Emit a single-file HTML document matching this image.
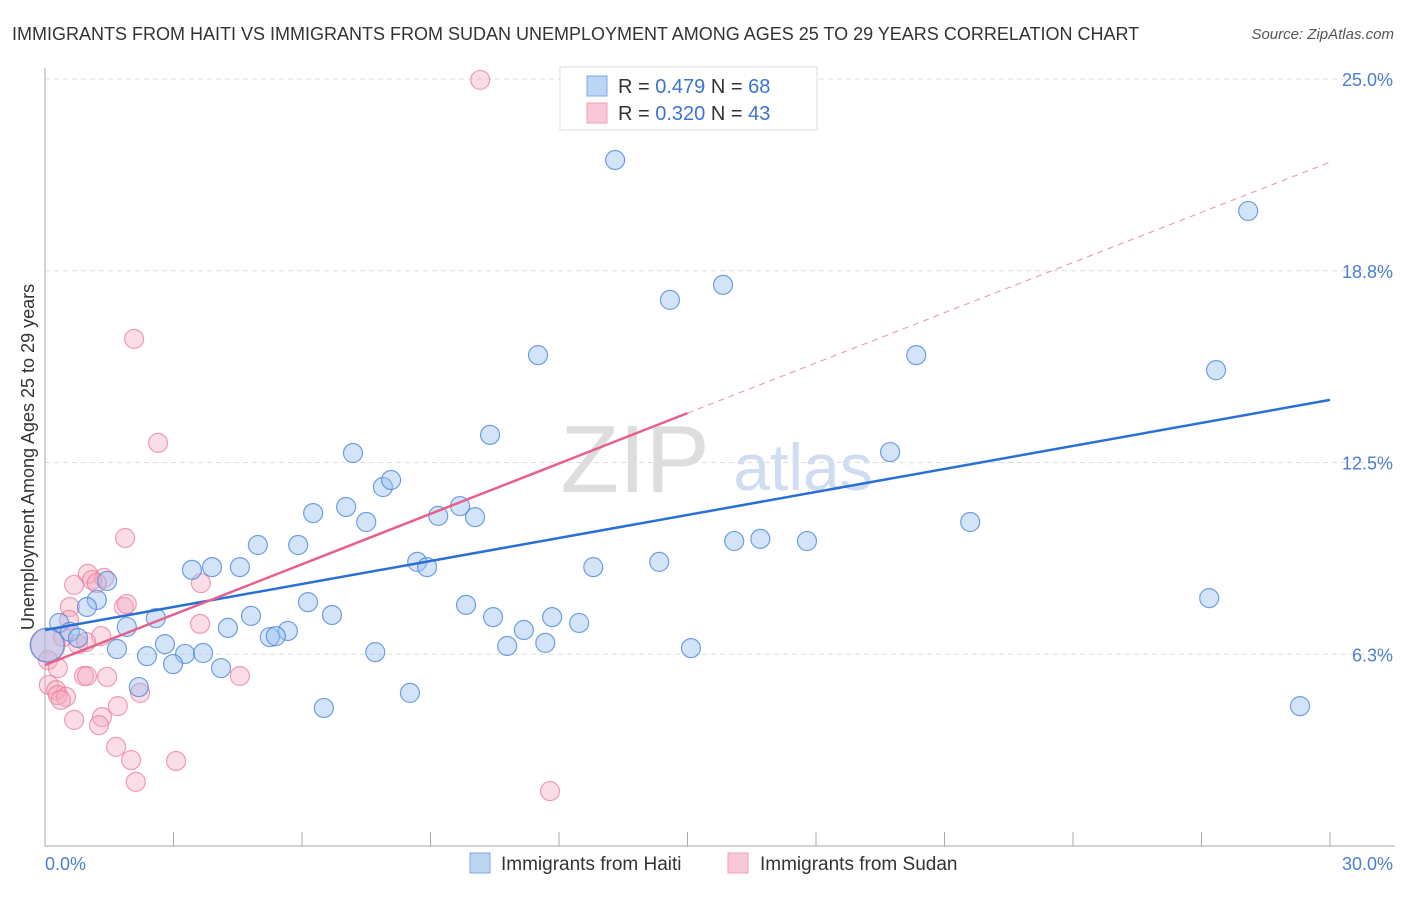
<!DOCTYPE html>
<html><head><meta charset="utf-8">
<style>
body{margin:0;background:#fff;font-family:"Liberation Sans",sans-serif;}
svg text{font-family:"Liberation Sans",sans-serif;}
</style></head>
<body>
<svg id="chart" width="1406" height="892" xmlns="http://www.w3.org/2000/svg">
<text x="12" y="40" font-size="18" fill="#333">IMMIGRANTS FROM HAITI VS IMMIGRANTS FROM SUDAN UNEMPLOYMENT AMONG AGES 25 TO 29 YEARS CORRELATION CHART</text>
<text x="1394" y="39" font-size="15" fill="#555" font-style="italic" text-anchor="end">Source: ZipAtlas.com</text>
<g>
<text x="635" y="492" font-size="96" fill="#ddd" font-family="Liberation Serif" text-anchor="middle">ZIP</text>
<text x="803" y="490" font-size="66" fill="#cfdcf2" text-anchor="middle">atlas</text>
</g>
<g id="grid"></g>
<g id="axes"></g>
<g id="marks"></g>
<text transform="translate(34,457) rotate(-90)" font-size="18" fill="#333" text-anchor="middle">Unemployment Among Ages 25 to 29 years</text>
<g>
<rect x="560" y="67" width="257" height="63" fill="#fff" stroke="#ddd"/>
<rect x="587" y="76" width="20" height="20" fill="#bcd5f5" stroke="#7fa8e0"/>
<rect x="587" y="103" width="20" height="20" fill="#f9c8d6" stroke="#f0a0bb"/>
<text x="618" y="93" font-size="20" fill="#333">R = <tspan fill="#3b74d0">0.479</tspan>   N = <tspan fill="#3b74d0">68</tspan></text>
<text x="618" y="120" font-size="20" fill="#333">R = <tspan fill="#3b74d0">0.320</tspan>   N = <tspan fill="#3b74d0">43</tspan></text>
</g>
<g>
<rect x="470" y="853" width="20" height="20" fill="#bcd5f5" stroke="#7fa8e0"/>
<text x="501" y="870" font-size="19" fill="#333">Immigrants from Haiti</text>
<rect x="728" y="853" width="20" height="20" fill="#f9c8d6" stroke="#f0a0bb"/>
<text x="760" y="870" font-size="19" fill="#333">Immigrants from Sudan</text>
</g>
</svg>
<script>
const yTicks=[6.25,12.5,18.75,25];
const yTickLabels=["6.3%","12.5%","18.8%","25.0%"];
const xTicks=[0,3,6,9,12,15,18,21,24,27,30];
const xTickLabels=["0.0%","30.0%"];
const haitiX=[13.31,28.09,14.59,15.83,11.51,20.34,27.34,10.39,7.19,19.73,7.89,8.08,6.26,7.03,7.50,9.18,9.69,10.04,21.60,4.97,5.91,16.09,16.70,17.79,8.69,8.92,12.80,14.34,3.43,3.90,4.55,1.45,1.21,0.98,0.33,0.58,0.77,6.14,6.70,9.83,10.46,11.84,12.47,11.18,2.59,1.91,4.81,4.27,5.67,5.25,5.39,2.80,1.68,2.38,3.27,3.69,2.99,4.11,10.79,11.68,15.08,7.71,8.52,6.51,2.19,27.18,29.30,0.05];
const haitiY=[22.36,20.70,17.80,18.29,16.00,16.00,15.51,13.40,12.81,12.84,11.70,11.93,10.85,11.05,10.56,10.76,11.08,10.72,10.56,9.81,9.81,9.94,10.01,9.94,9.26,9.09,9.09,9.26,9.00,9.09,9.09,8.64,8.02,7.79,7.27,6.98,6.78,7.95,7.53,7.86,7.46,7.46,7.27,7.04,7.43,7.14,7.50,7.11,7.01,6.81,6.84,6.58,6.42,6.19,6.26,6.29,5.93,5.80,6.52,6.62,6.45,6.32,4.99,4.50,5.18,8.08,4.56,6.55];
const sudanX=[10.16,2.08,2.64,1.87,0.68,1.00,1.38,1.10,0.58,0.56,1.21,1.84,1.91,3.64,3.62,1.31,0.77,0.96,0.07,0.30,0.09,0.26,0.30,0.49,0.91,0.98,1.45,0.37,0.68,1.33,1.70,1.26,2.22,4.55,1.66,2.01,3.06,2.12,11.79,0.42,0.07];
const sudanY=[24.97,16.53,13.14,10.04,8.51,8.87,8.74,8.67,7.79,7.37,8.57,7.79,7.89,8.57,7.24,6.84,6.58,6.65,6.06,5.80,5.25,5.08,4.92,4.86,5.54,5.54,5.51,4.76,4.11,4.20,4.56,3.94,4.99,5.54,3.23,2.80,2.77,2.09,1.79,6.81,6.55];
const haitiTrend=[7.04,14.54];
const sudanTrend=[5.90,14.11,22.29];
const trendX=[0,30];
const sudanSolidEnd=15;

const NS="http://www.w3.org/2000/svg";
const X0=45,X1=1330,Y0=846,PXY=30.68;
const sx=v=>X0+(X1-X0)*v/30;
const sy=v=>Y0-v*PXY;
function mk(tag,attrs,parent){const e=document.createElementNS(NS,tag);for(const k in attrs)e.setAttribute(k,attrs[k]);parent.appendChild(e);return e;}
const grid=document.getElementById('grid'),axes=document.getElementById('axes'),marks=document.getElementById('marks');
yTicks.forEach((t,i)=>{
  const l=mk('line',{x1:X0,x2:1395,y1:sy(t),y2:sy(t),stroke:'#ddd','stroke-dasharray':'5,4'},grid);
  
  
  const tx=mk('text',{x:1393,y:sy(t)+7,'font-size':18,fill:'#4a7fd0','text-anchor':'end'},axes);
  tx.textContent=yTickLabels[i];
  
  
});
const ax=mk('line',{x1:X0,x2:X0,y1:68,y2:Y0,stroke:'#aaa'},axes);


const bx=mk('line',{x1:X0,x2:1395,y1:Y0,y2:Y0,stroke:'#aaa'},axes);


xTicks.forEach(t=>{
  const l=mk('line',{x1:sx(t),x2:sx(t),y1:Y0-14,y2:Y0,stroke:'#aaa'},axes);
  
  
});
const xl0=mk('text',{x:X0,y:870,'font-size':18,fill:'#4a7fd0'},axes);xl0.textContent=xTickLabels[0];


const xl1=mk('text',{x:1393,y:870,'font-size':18,fill:'#4a7fd0','text-anchor':'end'},axes);xl1.textContent=xTickLabels[1];



function dots(xs,ys,fill,stroke,name){
  xs.forEach((x,i)=>{
    const big=(i===xs.length-1);
    const c=mk('circle',{cx:sx(x),cy:sy(ys[i]),r:big?17:9.5,fill:fill,stroke:stroke,'stroke-width':1.2},marks);
    
    
  });
}
dots(sudanX,sudanY,'rgba(245,165,190,0.38)','rgba(235,120,155,0.7)','sudan-point');
dots(haitiX,haitiY,'rgba(150,190,240,0.42)','rgba(70,130,215,0.75)','haiti-point');

const bl=mk('line',{x1:sx(trendX[0]),y1:sy(haitiTrend[0]),x2:sx(trendX[1]),y2:sy(haitiTrend[1]),stroke:'#2a6fd6','stroke-width':2.5},marks);


const pl=mk('line',{x1:sx(trendX[0]),y1:sy(sudanTrend[0]),x2:sx(sudanSolidEnd),y2:sy(sudanTrend[1]),stroke:'#e8608a','stroke-width':2.5},marks);


const pd=mk('line',{x1:sx(sudanSolidEnd),y1:sy(sudanTrend[1]),x2:sx(trendX[1]),y2:sy(sudanTrend[2]),stroke:'#eba0b8','stroke-width':1.2,'stroke-dasharray':'6,5'},marks);


</script>
</body></html>
